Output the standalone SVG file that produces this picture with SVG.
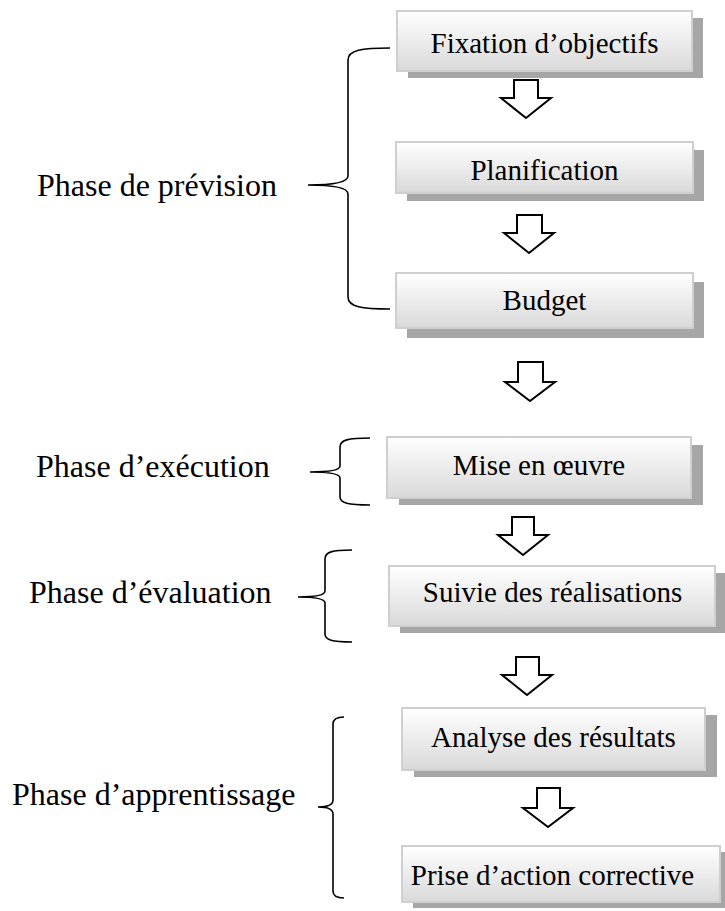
<svg xmlns="http://www.w3.org/2000/svg" width="725" height="911" viewBox="0 0 725 911">
  <defs>
    <linearGradient id="boxFill" x1="0" y1="0" x2="0" y2="1">
      <stop offset="0" stop-color="#ffffff"/>
      <stop offset="1" stop-color="#d9d9d9"/>
    </linearGradient>
    <style>
      .shadow { fill: #a6a6a6; }
      .box { fill: url(#boxFill); stroke: #cfcfcf; stroke-width: 2; }
      .step { font-family: "Liberation Serif", "Times New Roman", serif; font-size: 29px; fill: #000; text-anchor: middle; }
      .phase { font-family: "Liberation Serif", "Times New Roman", serif; font-size: 32px; fill: #000; }
      .arrow { fill: #fff; stroke: #000; stroke-width: 2; stroke-linejoin: miter; }
      .brace { fill: none; stroke: #000; stroke-width: 1.6; }
    </style>
  </defs>
  <rect width="725" height="911" fill="#fff"/>

  <!-- step boxes -->
  <g id="fixation">
    <rect class="shadow" x="408" y="18" width="295" height="60"/>
    <rect class="box" x="397" y="11" width="295" height="60"/>
    <text class="step" x="544.5" y="53">Fixation d’objectifs</text>
  </g>
  <g id="planification">
    <rect class="shadow" x="407" y="150" width="297" height="51"/>
    <rect class="box" x="396" y="142" width="297" height="51"/>
    <text class="step" x="544.5" y="180">Planification</text>
  </g>
  <g id="budget">
    <rect class="shadow" x="407" y="282" width="297" height="56"/>
    <rect class="box" x="396" y="273" width="297" height="55"/>
    <text class="step" x="544.5" y="310">Budget</text>
  </g>
  <g id="mise-en-oeuvre">
    <rect class="shadow" x="399" y="445" width="304" height="60"/>
    <rect class="box" x="387" y="437" width="304" height="61"/>
    <text class="step" x="539" y="475">Mise en œuvre</text>
  </g>
  <g id="suivie">
    <rect class="shadow" x="400" y="573" width="326" height="60"/>
    <rect class="box" x="389" y="566" width="326" height="60"/>
    <text class="step" x="552.5" y="602">Suivie des réalisations</text>
  </g>
  <g id="analyse">
    <rect class="shadow" x="414" y="715" width="303" height="62"/>
    <rect class="box" x="402" y="708" width="303" height="62"/>
    <text class="step" x="553.5" y="747">Analyse des résultats</text>
  </g>
  <g id="prise-action">
    <rect class="shadow" x="413" y="852" width="318" height="56"/>
    <rect class="box" x="402" y="846" width="318" height="56"/>
    <text class="step" x="552.5" y="885">Prise d’action corrective</text>
  </g>

  <!-- phase labels -->
  <g id="phase-prevision">
    <text class="phase" x="37" y="196">Phase de prévision</text>
  </g>
  <g id="phase-execution">
    <text class="phase" x="36" y="477">Phase d’exécution</text>
  </g>
  <g id="phase-evaluation">
    <text class="phase" x="29" y="603">Phase d’évaluation</text>
  </g>
  <g id="phase-apprentissage">
    <text class="phase" x="12" y="805">Phase d’apprentissage</text>
  </g>

  <!-- connectors: block arrows between steps and braces grouping phases -->
  <g id="connectors">
    <path class="arrow" d="M514,80 H538 V98 H551 L526,118 L501,98 H514 Z"/>
    <path class="arrow" d="M517,215 H542 V233 H554 L529,253 L504,233 H517 Z"/>
    <path class="arrow" d="M518,362 H543 V382 H555 L530,401 L505,382 H518 Z"/>
    <path class="arrow" d="M512,517 H534 V535 H548 L523,555 L498,535 H512 Z"/>
    <path class="arrow" d="M516,657 H539 V675 H552 L527,695 L502,675 H516 Z"/>
    <path class="arrow" d="M537,788 H560 V808 H573 L548,827 L523,808 H537 Z"/>

    <path class="brace" d="M390,48 C362,48 348,50 348,60 L348,176 C348,182 336,185 308,185 C336,185 348,188 348,194 L348,297 C348,307 362,309 390,309"/>
    <path class="brace" d="M370,438 C348,438 340,440 340,447 L340,466 C340,470 330,472 310,472 C330,472 340,474 340,478 L340,497 C340,503 348,505 370,505"/>
    <path class="brace" d="M352,550 C332,550 325,552 325,559 L325,591 C325,595 316,597 298,597 C316,597 325,599 325,603 L325,634 C325,640 332,642 352,642"/>
    <path class="brace" d="M344,717 C338,717 333,718 333,724 L333,800 C333,805 328,807 318,807 C328,807 333,809 333,814 L333,891 C333,897 338,898 344,898"/>
  </g>
</svg>
